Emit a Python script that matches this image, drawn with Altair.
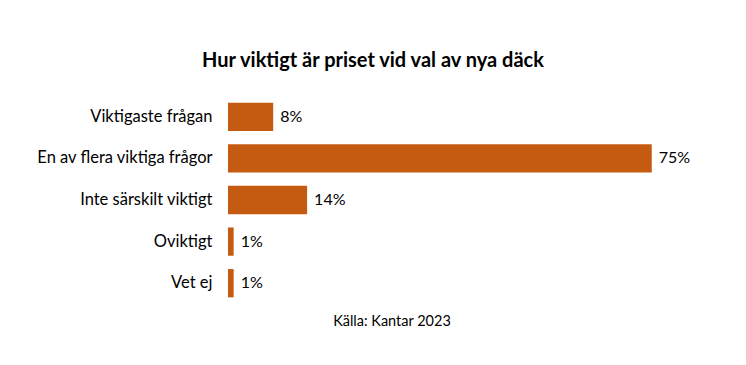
import altair as alt
import pandas as pd

categories = ["Viktigaste frågan", "En av flera viktiga frågor", "Inte särskilt viktigt", "Oviktigt", "Vet ej"]
values = [8, 75, 14, 1, 1]
labels = ["8%", "75%", "14%", "1%", "1%"]

df = pd.DataFrame({"cat": categories, "val": values, "lab": labels})

FONT = "Lato"
COLOR = "#C55A11"

base = alt.Chart(df).encode(
    y=alt.Y("cat:N", sort=None,
            scale=alt.Scale(paddingInner=0.32, paddingOuter=0.16),
            axis=alt.Axis(title=None, domain=False, ticks=False, labelPadding=16,
                          labelFont=FONT, labelFontSize=16.5, labelColor="#000000",
                          minExtent=200, maxExtent=200, labelLimit=300)),
)

bars = base.mark_bar(color=COLOR).encode(
    x=alt.X("val:Q", scale=alt.Scale(domain=[0, 80], nice=False),
            axis=alt.Axis(title="Källa: Kantar 2023", domain=False, ticks=False, labels=False,
                          grid=False, titleFont=FONT, titleFontSize=14.5, titleFontWeight="normal",
                          titleColor="#000000", titleX=163.5, titleAlign="center",
                          titleAnchor="start", titlePadding=10)),
)

text = base.mark_text(align="left", baseline="middle", dx=7, font=FONT, fontSize=16, color="#000000").encode(
    x="val:Q",
    text="lab:N",
)

chart = (bars + text).properties(
    width=452,
    height=208,
    padding={"left": 20, "top": 43, "right": 10, "bottom": 10},
    title=alt.TitleParams("Hur viktigt är priset vid val av nya däck", font=FONT, fontSize=20,
                          fontWeight="bold", color="#000000", anchor="middle", dx=-81, offset=25),
).configure(background="white").configure_view(strokeWidth=0, stroke=None)

chart.save("out.html", embed_options={"renderer": "svg", "actions": False})
